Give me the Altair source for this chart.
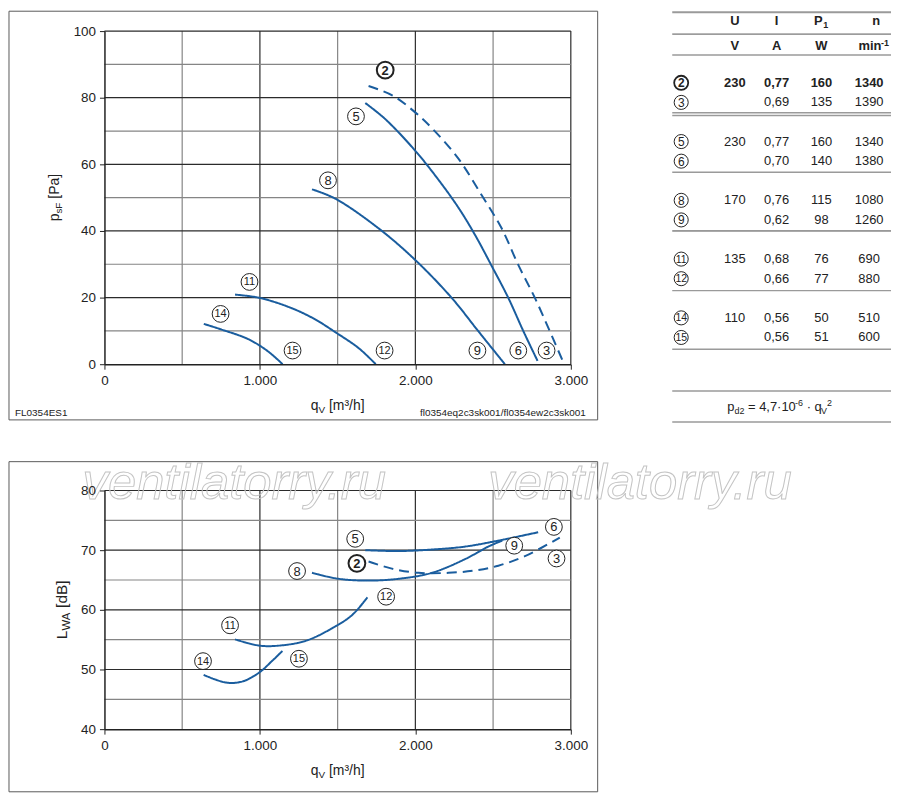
import altair as alt
import pandas as pd

FONT = "Liberation Sans"
BLUE = "#1a5d9e"
INK = "#222222"
MAJOR = "#2b2b2b"
MINOR = "#858585"
FRAME = "#5a5a5a"
W, H1, H2 = 469, 335, 240

# ---------------- data: static pressure p_sF [Pa] over q_V [m3/h] ----------------
ps2_q = [1699, 1856, 1999, 2106, 2277, 2427, 2555, 2662, 2769, 2865, 2957]
ps2_v = [83.5, 80.6, 75.6, 70.9, 61.7, 50.7, 40.8, 29.8, 19.9, 9.9, 0.0]
ps5_q = [1678, 1806, 1999, 2148, 2277, 2384, 2491, 2598, 2694, 2786]
ps5_v = [78.4, 73.6, 64.1, 55.4, 47.0, 38.8, 29.5, 19.9, 10.0, 1.0]
ps8_q = [1335, 1485, 1763, 1999, 2234, 2405, 2576]
ps8_v = [52.5, 49.7, 40.8, 31.3, 19.9, 9.9, 0.0]
ps11_q = [840, 999, 1195, 1350, 1489, 1636, 1745]
ps11_v = [20.9, 19.9, 17.0, 13.6, 9.5, 4.8, 0.0]
ps14_q = [639, 754, 926, 1048, 1146]
ps14_v = [12.1, 10.4, 7.5, 4.0, 0.0]

ps_lab = ["2", "5", "8", "11", "14", "15", "12", "9", "6", "3"]
ps_lab_q = [1806, 1618, 1438, 933, 747, 1210, 1802, 2399, 2662, 2844]
ps_lab_v = [88.3, 74.4, 55.2, 24.7, 15.1, 4.1, 4.1, 4.1, 4.1, 4.1]

# ---------------- data: sound power L_WA [dB] over q_V [m3/h] ----------------
lw2_q = [1699, 1849, 2020, 2213, 2384, 2534, 2705, 2929]
lw2_v = [68.1, 66.9, 66.2, 66.2, 66.6, 67.4, 69.0, 72.1]
lw5_q = [1678, 1892, 2106, 2320, 2534, 2790]
lw5_v = [70.0, 69.85, 70.1, 70.6, 71.6, 73.0]
lw8_q = [1335, 1506, 1699, 1892, 2106, 2320, 2469, 2559]
lw8_v = [66.2, 65.2, 64.9, 65.2, 66.2, 68.5, 70.6, 71.6]
lw11_q = [840, 996, 1123, 1294, 1464, 1592, 1692]
lw11_v = [55.05, 54.0, 54.0, 54.8, 56.9, 59.1, 62.1]
lw14_q = [638, 783, 889, 996, 1081, 1145]
lw14_v = [49.1, 47.8, 48.0, 49.5, 51.5, 53.1]

lw_lab = ["5", "2", "8", "6", "9", "3", "12", "11", "14", "15"]
lw_lab_q = [1613, 1624, 1239, 2891, 2636, 2908, 1812, 808, 634, 1251]
lw_lab_v = [71.9, 67.8, 66.5, 73.9, 70.75, 68.6, 62.2, 57.4, 51.4, 51.8]

# ---------------- axes ----------------
q_ticks = [0, 1000, 2000, 3000]
q_minor = [500, 1500, 2500]
ps_ticks = [0, 20, 40, 60, 80, 100]
ps_minor = [10, 30, 50, 70, 90]
lw_ticks = [40, 50, 60, 70, 80]
lw_minor = [45, 55, 65, 75]

# ---------------- table ----------------
t_lab = ["2", "3", "5", "6", "8", "9", "11", "12", "14", "15"]
t_U = ["230", "", "230", "", "170", "", "135", "", "110", ""]
t_I = ["0,77", "0,69", "0,77", "0,70", "0,76", "0,62", "0,68", "0,66", "0,56", "0,56"]
t_P = ["160", "135", "160", "140", "115", "98", "76", "77", "50", "51"]
t_n = ["1340", "1390", "1340", "1380", "1080", "1260", "690", "880", "510", "600"]
t_head = ["U", "I", "P", "n"]
t_unit = ["V", "A", "W", "min"]

ONE = pd.DataFrame({"k": [0]})

AW = {' ': 278, 'p': 556, 'd': 556, 'q': 556, 's': 500, 'F': 611, 'V': 667, 'W': 944,
      'A': 667, 'L': 556, '[': 278, ']': 278, 'P': 667, 'a': 556, 'm': 833, '³': 333,
      '/': 278, 'h': 556, 'B': 667, '=': 584, ',': 278, '·': 278, '-': 333, 'i': 222,
      'n': 556, '1': 556}


def tw(s, size, bold=False):
    f = 1.08 if bold else 1.0
    return sum(AW.get(c, 556) for c in s) * size / 1000 * f


def txt(text, x, y, size=13, angle=0, align="left", baseline="alphabetic",
        weight="normal", color=INK, style="normal"):
    return alt.Chart(ONE).mark_text(
        text=text, fontSize=size, angle=angle, align=align, baseline=baseline,
        fontWeight=weight, color=color, font=FONT, fontStyle=style
    ).encode(x=alt.value(x), y=alt.value(y))


def compose(pieces, cx, cy, rotated=False, weight="normal"):
    """Lay out text pieces (text, size, baseline shift) one after another, centred on cx/cy."""
    bold = weight == "bold"
    total = sum(tw(t, s, bold) for t, s, _ in pieces)
    off = -total / 2
    out = []
    for t, s, sh in pieces:
        lead = len(t) - len(t.lstrip(" "))
        start = off + tw(" " * lead, s, bold)
        body = t.strip(" ")
        if rotated:
            out.append(txt(body, cx + sh, cy - start, size=s, angle=270, weight=weight))
        else:
            out.append(txt(body, cx + start, cy + sh, size=s, weight=weight))
        off += tw(t, s, bold)
    return out


def frame(x1, x2, y1, y2):
    return alt.Chart(ONE).mark_rect(fill="white", fillOpacity=0, stroke=FRAME, strokeWidth=1).encode(
        x=alt.value(x1), x2=alt.value(x2), y=alt.value(y1), y2=alt.value(y2))


def curves_df(items):
    rows = []
    for name, qs, vs, style in items:
        for q, v in zip(qs, vs):
            rows.append({"name": name, "q": q, "v": v, "style": style})
    return pd.DataFrame(rows)


def panel(curves, labs, labq, labv, ydom, yticks, yminor):
    xs = alt.Scale(domain=[0, 3000], nice=False, zero=False)
    ys = alt.Scale(domain=ydom, nice=False, zero=False)
    xaxis = alt.Axis(values=q_ticks, labelExpr="replace(format(datum.value, ','), ',', '.')",
                     title=None, grid=False, tickSize=5, tickColor=INK, domainColor=INK,
                     domainWidth=1.5, labelFont=FONT, labelFontSize=13.5, labelColor=INK,
                     labelPadding=4, labelFlush=False, labelOverlap=False, zindex=1)
    yaxis = alt.Axis(values=yticks, title=None, grid=False, tickSize=5, tickColor=INK,
                     domainColor=INK, domainWidth=1.5, labelFont=FONT, labelFontSize=13.5,
                     labelColor=INK, labelPadding=4, labelFlush=False, labelOverlap=False, zindex=1)
    X = dict(field="q", type="quantitative", scale=xs, axis=xaxis)
    Y = dict(field="v", type="quantitative", scale=ys, axis=yaxis)
    layers = []
    layers.append(alt.Chart(pd.DataFrame({"q": q_minor})).mark_rule(color=MINOR, strokeWidth=1.2)
                  .encode(x=alt.X(**X)))
    layers.append(alt.Chart(pd.DataFrame({"q": q_ticks[1:]})).mark_rule(color=MAJOR, strokeWidth=1.2)
                  .encode(x=alt.X(**X)))
    layers.append(alt.Chart(pd.DataFrame({"v": yminor})).mark_rule(color=MINOR, strokeWidth=1.2)
                  .encode(y=alt.Y(**Y)))
    layers.append(alt.Chart(pd.DataFrame({"v": yticks[1:]})).mark_rule(color=MAJOR, strokeWidth=1.2)
                  .encode(y=alt.Y(**Y)))
    layers.append(alt.Chart(curves_df(curves)).mark_line(
        strokeWidth=2, color=BLUE, interpolate="catmull-rom").encode(
        x=alt.X(**X), y=alt.Y(**Y),
        detail="name:N",
        strokeDash=alt.StrokeDash("style:N", scale=alt.Scale(domain=["solid", "dashed"],
                                  range=[[1, 0], [10, 6]]), legend=None)))
    ldf = pd.DataFrame({"lab": labs, "q": labq, "v": labv, "bold": [l == "2" for l in labs]})
    for b in (False, True):
        base = alt.Chart(ldf).transform_filter("datum.bold" if b else "!datum.bold")
        layers.append(base.mark_point(shape="circle", filled=True, fill="white", stroke=INK,
                                      strokeWidth=2 if b else 1, size=285, opacity=1).encode(
            x=alt.X(**X), y=alt.Y(**Y)))
        layers.append(base.mark_text(font=FONT, color=INK, align="center", baseline="middle",
                                     dy=0.5, fontWeight="bold" if b else "normal").encode(
            x=alt.X(**X), y=alt.Y(**Y), text="lab:N",
            size=alt.condition("length(datum.lab) > 1", alt.value(11), alt.value(13))))
    return layers


# ---------------- top panel ----------------
top_layers = [frame(-96, 496, -20, 391)]
top_layers += panel([("2", ps2_q, ps2_v, "dashed"), ("5", ps5_q, ps5_v, "solid"),
                     ("8", ps8_q, ps8_v, "solid"), ("11", ps11_q, ps11_v, "solid"),
                     ("14", ps14_q, ps14_v, "solid")],
                    ps_lab, ps_lab_q, ps_lab_v, [0, 100], ps_ticks, ps_minor)
top_layers += compose([("p", 14, 0), ("sF", 10, 3), (" [Pa]", 14, 0)], -46, H1 / 2, rotated=True)
top_layers += compose([("q", 14, 0), ("V", 10, 3), (" [m³/h]", 14, 0)], W / 2, 381)
top_layers.append(txt("FL0354ES1", -90, 387, size=10))
top_layers.append(txt("fl0354eq2c3sk001/fl0354ew2c3sk001", 484, 387, size=10, align="right"))
top = alt.layer(*top_layers).properties(width=W, height=H1)

# ---------------- bottom panel ----------------
bot_layers = [frame(-96, 496, -29, 303)]
bot_layers += panel([("2", lw2_q, lw2_v, "dashed"), ("5", lw5_q, lw5_v, "solid"),
                     ("8", lw8_q, lw8_v, "solid"), ("11", lw11_q, lw11_v, "solid"),
                     ("14", lw14_q, lw14_v, "solid")],
                    lw_lab, lw_lab_q, lw_lab_v, [40, 80], lw_ticks, lw_minor)
bot_layers += compose([("L", 15.5, 0), ("WA", 11.5, 3.5), (" [dB]", 15.5, 0)], -38, H2 / 2, rotated=True)
bot_layers += compose([("q", 14, 0), ("V", 10, 3), (" [m³/h]", 14, 0)], W / 2, 286)
for wx in (-22, 386):
    bot_layers.append(alt.Chart(ONE).mark_text(
        text="ventilatorry.ru", fontSize=51, fontStyle="italic", font=FONT, align="left",
        baseline="alphabetic", fill="white", fillOpacity=0, stroke="#c4c4c4", strokeWidth=1
    ).encode(x=alt.value(wx), y=alt.value(9)))
bottom = alt.layer(*bot_layers).properties(width=W, height=H2)

# ---------------- table ----------------
TW = 220
tdf = pd.DataFrame({"lab": t_lab, "U": t_U, "I": t_I, "P": t_P, "n": t_n,
                    "slot": [3 * (i // 2) + i % 2 for i in range(len(t_lab))],
                    "bold": [i == 0 for i in range(len(t_lab))]})
ys_t = alt.Scale(domain=[0, 13], range=[52, 52 + 13 * 19.7], nice=False, zero=False)
tl = [alt.Chart(ONE).mark_rect(fill="white", opacity=0).encode(
    x=alt.value(0), x2=alt.value(TW), y=alt.value(0), y2=alt.value(H1))]
rules = [(-19, "#9a9a9a", 2), (3, "#555555", 1), (24, "#9a9a9a", 1.5), (82, "#9a9a9a", 1.5),
         (85, "#9a9a9a", 1.5), (142, "#9a9a9a", 1.5), (201, "#444444", 1), (261, "#9a9a9a", 1.5),
         (320, "#9a9a9a", 1.5), (362, "#9a9a9a", 1.5), (393, "#9a9a9a", 1.5)]
for ry, rc, rw in rules:
    tl.append(alt.Chart(ONE).mark_rule(color=rc, strokeWidth=rw).encode(
        x=alt.value(0), x2=alt.value(TW), y=alt.value(ry)))
cols = {"U": 63, "I": 105, "P": 150, "n": 198}
for b in (False, True):
    base = alt.Chart(tdf).transform_filter("datum.bold" if b else "!datum.bold")
    wgt = "bold" if b else "normal"
    for f, cx in cols.items():
        tl.append(base.mark_text(font=FONT, fontSize=13, color=INK, align="center",
                                 baseline="middle", fontWeight=wgt).encode(
            x=alt.value(cx), y=alt.Y("slot:Q", scale=ys_t, axis=None), text=f"{f}:N"))
    tl.append(base.mark_point(shape="circle", filled=True, fill="white", stroke=INK,
                              strokeWidth=1.8 if b else 1, size=200, opacity=1).encode(
        x=alt.value(9), y=alt.Y("slot:Q", scale=ys_t, axis=None)))
    tl.append(base.mark_text(font=FONT, color=INK, align="center", baseline="middle", dy=0.5,
                             fontWeight=wgt).encode(
        x=alt.value(9), y=alt.Y("slot:Q", scale=ys_t, axis=None), text="lab:N",
        size=alt.condition("length(datum.lab) > 1", alt.value(10.5), alt.value(12))))
# header rows
tl.append(txt(t_head[0], cols["U"], -6.5, size=13, align="center", weight="bold"))
tl.append(txt(t_head[1], cols["I"], -6.5, size=13, align="center", weight="bold"))
tl += compose([(t_head[2], 13, 0), ("1", 9, 3)], cols["P"], -6.5, weight="bold")
tl.append(txt(t_head[3], 205, -6.5, size=13, align="center", weight="bold"))
tl.append(txt(t_unit[0], cols["U"], 19.5, size=13, align="center", weight="bold"))
tl.append(txt(t_unit[1], cols["I"], 19.5, size=13, align="center", weight="bold"))
tl.append(txt(t_unit[2], cols["P"], 19.5, size=13, align="center", weight="bold"))
tl += compose([(t_unit[3], 13, 0), ("-1", 9, -5)], 203, 19.5, weight="bold")
tl += compose([("p", 13, 0), ("d2", 9, 3), (" = 4,7·10", 13, 0), ("-6", 9, -5),
               (" · q", 13, 0), ("V", 9, 3), ("2", 9, -5)], 108, 382.5)
table = alt.layer(*tl).properties(width=TW, height=H1)

chart = alt.vconcat(
    alt.hconcat(top, table, spacing=102, bounds="flush"),
    bottom, spacing=36
).properties(padding=0, background="white").configure_view(stroke=None)

chart.save("out.html", embed_options={"renderer": "svg", "actions": False})
